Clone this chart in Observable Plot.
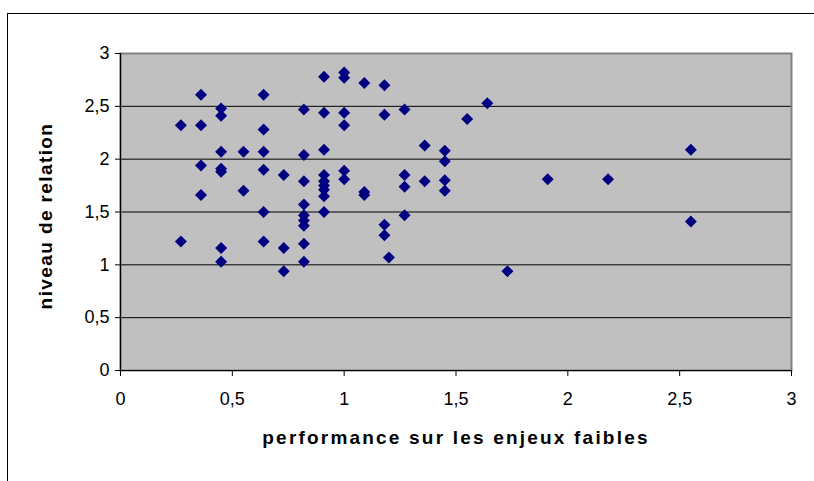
<!DOCTYPE html>
<html>
<head>
<meta charset="utf-8">
<script src="https://cdn.jsdelivr.net/npm/d3@7"></script>
<script src="https://cdn.jsdelivr.net/npm/@observablehq/plot@0.6"></script>
<style>
  body { margin: 0; background: #fff; }
  #chart { position: relative; width: 814px; height: 481px; overflow: hidden; }
  #chart-border {
    position: absolute; left: 7px; top: 13px; width: 900px; height: 600px;
    border-left: 1px solid #000; border-top: 1px solid #000;
  }
</style>
</head>
<body>
<div id="chart"></div>
<script>
// Performance on low-stakes issues (x) and relationship level (y), one entry per respondent
const performance = [
  0.27, 0.27,
  0.36, 0.36, 0.36, 0.36,
  0.45, 0.45, 0.45, 0.45, 0.45, 0.45, 0.45,
  0.55, 0.55,
  0.64, 0.64, 0.64, 0.64, 0.64, 0.64,
  0.73, 0.73, 0.73,
  0.82, 0.82, 0.82, 0.82, 0.82, 0.82, 0.82, 0.82, 0.82,
  0.91, 0.91, 0.91, 0.91, 0.91, 0.91, 0.91, 0.91, 0.91,
  1.0, 1.0, 1.0, 1.0, 1.0, 1.0,
  1.09, 1.09, 1.09,
  1.18, 1.18, 1.18, 1.18,
  1.2,
  1.27, 1.27, 1.27, 1.27,
  1.36, 1.36,
  1.45, 1.45, 1.45, 1.45,
  1.55, 1.64, 1.73, 1.91, 2.18,
  2.55, 2.55
];
const relation = [
  2.32, 1.22,
  2.61, 2.32, 1.94, 1.66,
  2.48, 2.41, 2.07, 1.91, 1.88, 1.16, 1.03,
  2.07, 1.70,
  2.61, 2.28, 2.07, 1.90, 1.50, 1.22,
  1.85, 1.16, 0.94,
  2.47, 2.04, 1.79, 1.57, 1.47, 1.42, 1.37, 1.20, 1.03,
  2.78, 2.44, 2.09, 1.85, 1.79, 1.75, 1.71, 1.65, 1.50,
  2.82, 2.77, 2.44, 2.32, 1.89, 1.81,
  2.72, 1.69, 1.66,
  2.70, 2.42, 1.38, 1.28,
  1.07,
  2.47, 1.85, 1.74, 1.47,
  2.13, 1.79,
  2.08, 1.98, 1.80, 1.70,
  2.38, 2.53, 0.94, 1.81, 1.81,
  2.09, 1.41
];

const xTicks = [0, 0.5, 1, 1.5, 2, 2.5, 3];
const yTicks = [0, 0.5, 1, 1.5, 2, 2.5, 3];
const gridLevels = [0.5, 1, 1.5, 2, 2.5];
const xTitle = "performance sur les enjeux faibles";
const yTitle = "niveau de relation";

// French decimal comma
const frFormat = d => String(d).replace(".", ",");

const points = performance.map((x, i) => ({x, y: relation[i]}));

const chart = Plot.plot({
  width: 814,
  height: 481,
  marginLeft: 120,
  marginRight: 23,
  marginTop: 53,
  marginBottom: 111,
  style: {
    fontFamily: "'Liberation Sans', Arial, sans-serif",
    fontSize: "18px",
    color: "#000",
    background: "transparent",
    overflow: "visible"
  },
  x: {domain: [0, 3]},
  y: {domain: [0, 3]},
  marks: [
    Plot.frame({fill: "#c0c0c0", stroke: "none"}),
    Plot.ruleY(gridLevels, {stroke: "#000", strokeWidth: 1}),
    Plot.frame({fill: "none", stroke: "#808080", strokeWidth: 2}),
    Plot.ruleY([0], {stroke: "#000", strokeWidth: 1.2}),
    Plot.ruleX([0], {stroke: "#000", strokeWidth: 1.2}),
    Plot.axisX({ticks: xTicks, tickFormat: frFormat, tickSize: 6, tickPadding: 16, label: null}),
    Plot.axisY({ticks: yTicks, tickFormat: frFormat, tickSize: 5, tickPadding: 6, label: null}),
    Plot.dot(points, {x: "x", y: "y", symbol: "diamond2", r: 5.4, fill: "#000080", stroke: "none"}),
    Plot.text([xTitle], {frameAnchor: "bottom", dy: 73, textAnchor: "middle", fontWeight: "bold", fontSize: 19, fill: "#000", className: "title-x"}),
    Plot.text([yTitle], {frameAnchor: "left", dx: -75, dy: 4, textAnchor: "middle", rotate: -90, fontWeight: "bold", fontSize: 19, fill: "#000", className: "title-y"})
  ]
});

// Wide letter spacing on the axis titles
d3.select(chart).selectAll(".title-x text").style("letter-spacing", "2.2px");
d3.select(chart).selectAll(".title-y text").style("letter-spacing", "1.4px");

const host = document.getElementById("chart");
host.appendChild(chart);
const border = document.createElement("div");
border.id = "chart-border";
host.appendChild(border);
</script>
</body>
</html>
